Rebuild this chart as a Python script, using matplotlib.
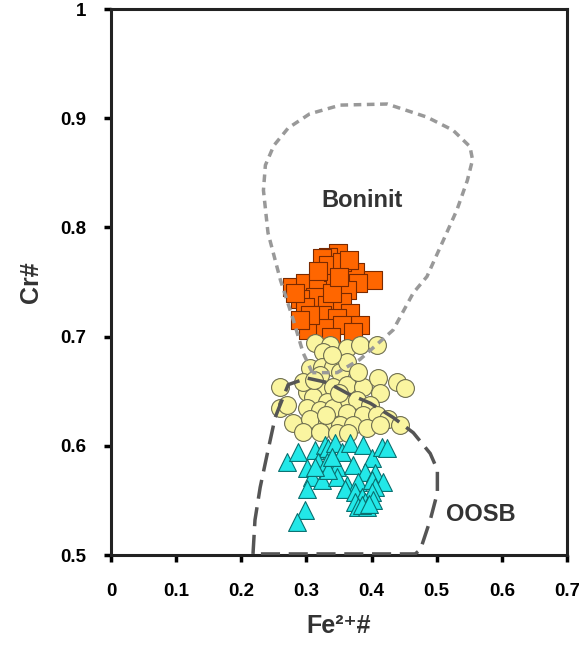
import numpy as np
import matplotlib
matplotlib.use('Agg')
import matplotlib.pyplot as plt

plt.rcParams['font.family'] = ['Liberation Sans', 'DejaVu Sans']
plt.rcParams['font.weight'] = 'bold'

# Fe2+# / Cr# values
orange_x = [0.349, 0.333, 0.324, 0.359, 0.375, 0.402, 0.278, 0.298, 0.318, 0.341,
            0.344, 0.379, 0.363, 0.313, 0.290, 0.298, 0.332, 0.355, 0.367, 0.324,
            0.303, 0.347, 0.382, 0.303, 0.329, 0.355, 0.372, 0.306, 0.283, 0.333, 0.355,
            0.340, 0.365, 0.318, 0.350, 0.290, 0.337]
orange_y = [0.777, 0.773, 0.772, 0.764, 0.759, 0.752, 0.745, 0.749, 0.750, 0.759,
            0.750, 0.749, 0.743, 0.736, 0.734, 0.727, 0.729, 0.732, 0.722, 0.720,
            0.715, 0.717, 0.711, 0.706, 0.708, 0.711, 0.704, 0.720, 0.740, 0.766, 0.768,
            0.740, 0.770, 0.760, 0.755, 0.715, 0.700]

yellow_x = [0.313, 0.336, 0.363, 0.382, 0.409, 0.326, 0.306, 0.324, 0.341, 0.352,
            0.260, 0.301, 0.321, 0.341, 0.363, 0.387, 0.410, 0.439, 0.452, 0.413,
            0.310, 0.332, 0.356, 0.378, 0.398, 0.260, 0.301, 0.321, 0.341, 0.363,
            0.387, 0.409, 0.425, 0.444, 0.280, 0.306, 0.295, 0.332, 0.352, 0.372,
            0.393, 0.413, 0.321, 0.347, 0.364, 0.270, 0.295, 0.363, 0.379, 0.321,
            0.340, 0.312, 0.350, 0.330]
yellow_y = [0.694, 0.692, 0.690, 0.692, 0.692, 0.686, 0.671, 0.672, 0.672, 0.668,
            0.654, 0.649, 0.653, 0.654, 0.656, 0.654, 0.662, 0.658, 0.653, 0.648,
            0.645, 0.640, 0.639, 0.642, 0.637, 0.635, 0.635, 0.633, 0.635, 0.630,
            0.628, 0.628, 0.625, 0.619, 0.621, 0.625, 0.613, 0.622, 0.619, 0.619,
            0.616, 0.619, 0.613, 0.612, 0.612, 0.637, 0.658, 0.677, 0.668, 0.665,
            0.683, 0.660, 0.648, 0.628]

cyan_x = [0.270, 0.287, 0.301, 0.313, 0.329, 0.333, 0.344, 0.355, 0.367, 0.387,
          0.401, 0.416, 0.424, 0.318, 0.332, 0.347, 0.372, 0.390, 0.406, 0.309,
          0.324, 0.347, 0.363, 0.379, 0.401, 0.418, 0.406, 0.301, 0.359, 0.375,
          0.386, 0.401, 0.375, 0.390, 0.402, 0.379, 0.393, 0.298, 0.286, 0.333, 0.313,
          0.385, 0.396, 0.340]
cyan_y = [0.585, 0.594, 0.580, 0.596, 0.601, 0.598, 0.603, 0.594, 0.603, 0.601,
          0.589, 0.599, 0.598, 0.585, 0.585, 0.581, 0.582, 0.576, 0.575, 0.571,
          0.569, 0.571, 0.564, 0.567, 0.569, 0.567, 0.562, 0.560, 0.560, 0.558,
          0.553, 0.558, 0.549, 0.549, 0.550, 0.544, 0.544, 0.541, 0.530, 0.578, 0.581,
          0.546, 0.547, 0.590]

# field outlines
bon_x = [0.309, 0.295, 0.280, 0.260, 0.241, 0.234, 0.237, 0.250, 0.272, 0.305, 0.352,
         0.424, 0.485, 0.525, 0.551, 0.555, 0.547, 0.531, 0.510, 0.485, 0.464, 0.433,
         0.382, 0.347, 0.309]
bon_y = [0.667, 0.685, 0.715, 0.752, 0.795, 0.834, 0.857, 0.875, 0.891, 0.904, 0.912,
         0.913, 0.901, 0.889, 0.874, 0.862, 0.843, 0.816, 0.788, 0.755, 0.740, 0.706,
         0.679, 0.667, 0.667]
oosb_x = [0.218, 0.221, 0.229, 0.240, 0.252, 0.272, 0.301, 0.332, 0.363, 0.398, 0.433,
          0.464, 0.490, 0.501, 0.501, 0.490, 0.475, 0.467, 0.218]
oosb_y = [0.501, 0.532, 0.562, 0.593, 0.626, 0.656, 0.662, 0.658, 0.648, 0.639, 0.626,
          0.612, 0.593, 0.578, 0.557, 0.532, 0.505, 0.501, 0.501]

fig = plt.figure(figsize=(5.79, 6.48), dpi=100)
ax = fig.add_axes([0.1917, 0.1435, 0.7876, 0.8426])

ax.scatter(orange_x, orange_y, marker='s', s=150, color='#FF6600',
           edgecolors='#7a2a00', linewidths=0.8, zorder=2)
ax.scatter(yellow_x, yellow_y, marker='o', s=165, color='#FAF5A0',
           edgecolors='#6e6e50', linewidths=0.8, zorder=3)
ax.scatter(cyan_x, cyan_y, marker='^', s=165, color='#22E8E8',
           edgecolors='#0a7070', linewidths=0.8, zorder=4)

ax.plot(bon_x, bon_y, color='#999999', lw=2.5, dashes=(2.2, 1.6), zorder=5)
ax.plot(oosb_x, oosb_y, color='#555555', lw=2.5, dashes=(5.5, 2.5), zorder=5)

ax.text(0.386, 0.825, 'Boninit', fontsize=17, fontweight='bold', color='#333333',
        ha='center', va='center')
ax.text(0.567, 0.537, 'OOSB', fontsize=17, fontweight='bold', color='#333333',
        ha='center', va='center')

ax.set_xlim(0, 0.7)
ax.set_ylim(0.5, 1.0)
ax.set_xticks(np.arange(0, 0.71, 0.1))
ax.set_xticklabels(['0', '0.1', '0.2', '0.3', '0.4', '0.5', '0.6', '0.7'])
ax.set_yticks(np.arange(0.5, 1.01, 0.1))
ax.set_yticklabels(['0.5', '0.6', '0.7', '0.8', '0.9', '1'])
ax.tick_params(axis='x', length=5, width=2.5, pad=15, labelsize=13.5)
ax.tick_params(axis='y', length=5, width=2.5, pad=13, labelsize=13.5)
for sp in ax.spines.values():
    sp.set_linewidth(2.2)
    sp.set_color('#222222')

ax.set_xlabel('Fe\u00b2\u207a#', fontsize=18, fontweight='bold', color='#333333', labelpad=10)
ax.set_ylabel('Cr#', fontsize=18, fontweight='bold', color='#333333', labelpad=12)

plt.savefig('out.png', dpi=100)
